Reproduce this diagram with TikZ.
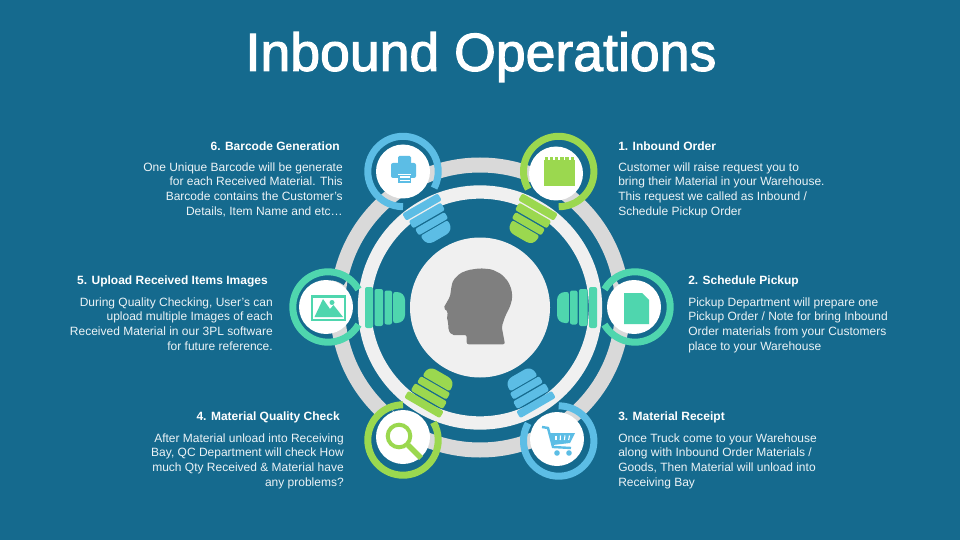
\documentclass[tikz,border=0pt]{standalone}
\usepackage{fontspec}
\setmainfont{Liberation Sans}
\newfontfamily\titlefont[FakeBold=2]{Liberation Sans}
\definecolor{bgblue}{HTML}{156A8E}
\definecolor{ringgray}{HTML}{D9D9D9}
\definecolor{softwhite}{HTML}{F0F0F0}
\definecolor{headgray}{HTML}{7F7F7F}
\definecolor{skyblue}{HTML}{5CBDE5}
\definecolor{leafgreen}{HTML}{9BD84F}
\definecolor{tealgreen}{HTML}{4FD6AE}
\begin{document}
\begin{tikzpicture}[x=0.75pt, y=0.75pt,
  disc/.style={circle, fill=white, inner sep=0pt, minimum size=40.5pt},
  heading/.style={text=white, inner sep=0pt, font=\bfseries\fontsize{9}{11}\selectfont},
  bodyleft/.style={text=white!92!bgblue, inner sep=0pt, align=right, anchor=north east, font=\fontsize{9}{10.9}\selectfont},
  bodyright/.style={text=white!92!bgblue, inner sep=0pt, align=left, anchor=north west, font=\fontsize{9}{10.9}\selectfont}]

  \fill[bgblue] (0,0) rectangle (960,540);
  \useasboundingbox (0,0) rectangle (960,540);

  \node[text=white, inner sep=0pt, font=\titlefont\fontsize{40.2}{44}\selectfont] (title) at (481,483) {Inbound Operations};

  % Big rings and middle disc
  \coordinate (hub) at (480,232.5);
  \draw[ringgray, line width=11.25pt] (hub) circle[radius=142.5];
  \draw[softwhite, line width=10pt] (hub) circle[radius=115.5];
  \node[circle, fill=softwhite, inner sep=0pt, minimum size=105pt] (face) at (hub) {};

  % Head
  \fill[headgray, rounded corners=1.5pt] (466.7,195.7) -- (466.7,205) -- (451.7,205) -- (448.3,210) -- (448.3,216.7) -- (446.7,223.3) -- (448.3,228.3) -- (443.3,231.7) -- (450,243.3)
    -- (451.7,255) -- (453.3,260) -- (460,266.7) -- (468.3,270) -- (480,271.7) -- (491.7,270.7) -- (501.7,265.7) -- (508.3,258.3) -- (511.7,250) -- (512.3,241.7)
    -- (510,233.3) -- (505,223.3) -- (501.7,213.3) -- (505,195.7) -- cycle;

  % Bulbs
  \foreach \ang/\off/\col in {120/5/skyblue, 60/5/leafgreen, 0/2/tealgreen, -60/1/skyblue, -120/1/leafgreen, 180/0/tealgreen} {
    \begin{scope}[shift={(hub)}, rotate=\ang, xshift=\off*0.75pt]
      \fill[\col, rounded corners=1.5pt] (107,-20.5) rectangle (115,20.5);
      \fill[\col, rounded corners=1.5pt] (97,-18.5) rectangle (105.5,18.5);
      \fill[\col, rounded corners=1.5pt] (88,-17) rectangle (95.5,17);
      \fill[\col, rounded corners=1.5pt] (86.8,15.5) -- (86.8,-15.5) [rounded corners=6pt] -- (75,-15.5) -- (75,15.5) [rounded corners=1.5pt] -- cycle;
    \end{scope}
  }

  % Parts of the big ring hidden behind the icons
  \draw[bgblue, line width=6pt] ([shift={(55:31)}]328,233) arc[start angle=55, end angle=125, radius=31];
  \draw[bgblue, line width=6pt] ([shift={(55:31)}]635,233) arc[start angle=55, end angle=125, radius=31];
  \draw[bgblue, line width=6pt] ([shift={(110:31)}]403,100) arc[start angle=110, end angle=170, radius=31];

  % Icon rings
  \foreach \x/\y/\a/\b/\col in {403/368.5/-28/270/skyblue, 558.7/368.5/-90/210/leafgreen, 635/233/-150/150/tealgreen,
      558.7/99/150/450/skyblue, 403/100/90/390/leafgreen, 328/233/30/330/tealgreen}
    \draw[\col, line width=5.25pt] ([shift={(\a:35.2)}]\x,\y) arc[start angle=\a, end angle=\b, radius=35.2];

  \node[disc] (printer) at (403,368.5) {};
  \node[disc] (notepad) at (556,366.5) {};
  \node[disc] (page) at (634,233) {};
  \node[disc] (cart) at (557,101) {};
  \node[disc] (lens) at (403,103) {};
  \node[disc] (photo) at (326,233) {};

  % Printer icon
  \fill[skyblue, rounded corners=1.5pt] (391,362) rectangle (416,377);
  \fill[skyblue, rounded corners=1pt] (398,374) rectangle (411,384);
  \fill[white] (397.5,365) rectangle (411,366.2);
  \fill[skyblue] (398,357) rectangle (411,365);
  \fill[white] (399.5,361.5) rectangle (409.5,364);
  \fill[white] (399.5,358.5) rectangle (409.5,360.3);

  % Notepad icon
  \fill[leafgreen] (544,354) rectangle (575,380);
  \foreach \i in {0,...,5}
    \fill[leafgreen] (544.5+5.2*\i,379) rectangle ++(3.4,4);

  % Page icon
  \fill[tealgreen] (624,216) -- (649,216) -- (649,240) -- (642,247) -- (624,247) -- cycle;

  % Cart icon
  \draw[skyblue, line width=1.8pt] (542,113) -- (548,112) -- (553,93) -- (571,92);
  \fill[skyblue] (549,107) -- (575,107) -- (570,97) -- (553,95) -- cycle;
  \foreach \i in {0,...,3}
    \draw[white, line width=0.8pt] (556+4.5*\i,104.5) -- (556+4.2*\i,100);
  \fill[skyblue] (557,87) circle[radius=2.8];
  \fill[skyblue] (569,87) circle[radius=2.8];

  % Lens icon
  \draw[leafgreen, line width=3pt] (399,104) circle[radius=11.3];
  \draw[leafgreen, line width=4pt] (408,95) -- (421,82);

  % Photo icon
  \draw[tealgreen, line width=2pt] (312,220) rectangle (345,243.5);
  \fill[tealgreen] (314.5,223) -- (323,241) -- (330,231) -- (333.5,235) -- (343,223) -- cycle;
  \fill[tealgreen] (332,237.5) circle[radius=2.5];

  % Left column
  \node[heading, anchor=east] (head6) at (340,394) {6. Barcode Generation};
  \node[bodyleft] (text6) at (343,377.5) {One Unique Barcode will be generate\\for each Received Material. This\\Barcode contains the Customer's\\Details, Item Name and etc\ldots};
  \node[heading, anchor=east] (head5) at (268,259) {5. Upload Received Items Images};
  \node[bodyleft] (text5) at (273,242.5) {During Quality Checking, User's can\\upload multiple Images of each\\Received Material in our 3PL software\\for future reference.};
  \node[heading, anchor=east] (head4) at (340,123) {4. Material Quality Check};
  \node[bodyleft] (text4) at (344,106.5) {After Material unload into Receiving\\Bay, QC Department will check How\\much Qty Received \& Material have\\any problems?};

  % Right column
  \node[heading, anchor=west] (head1) at (618,394) {1. Inbound Order};
  \node[bodyright] (text1) at (618,377.5) {Customer will raise request you to\\bring their Material in your Warehouse.\\This request we called as Inbound /\\Schedule Pickup Order};
  \node[heading, anchor=west] (head2) at (688,259) {2. Schedule Pickup};
  \node[bodyright] (text2) at (688,242.5) {Pickup Department will prepare one\\Pickup Order / Note for bring Inbound\\Order materials from your Customers\\place to your Warehouse};
  \node[heading, anchor=west] (head3) at (618,123) {3. Material Receipt};
  \node[bodyright] (text3) at (618,106.5) {Once Truck come to your Warehouse\\along with Inbound Order Materials /\\Goods, Then Material will unload into\\Receiving Bay};
\end{tikzpicture}
\end{document}
